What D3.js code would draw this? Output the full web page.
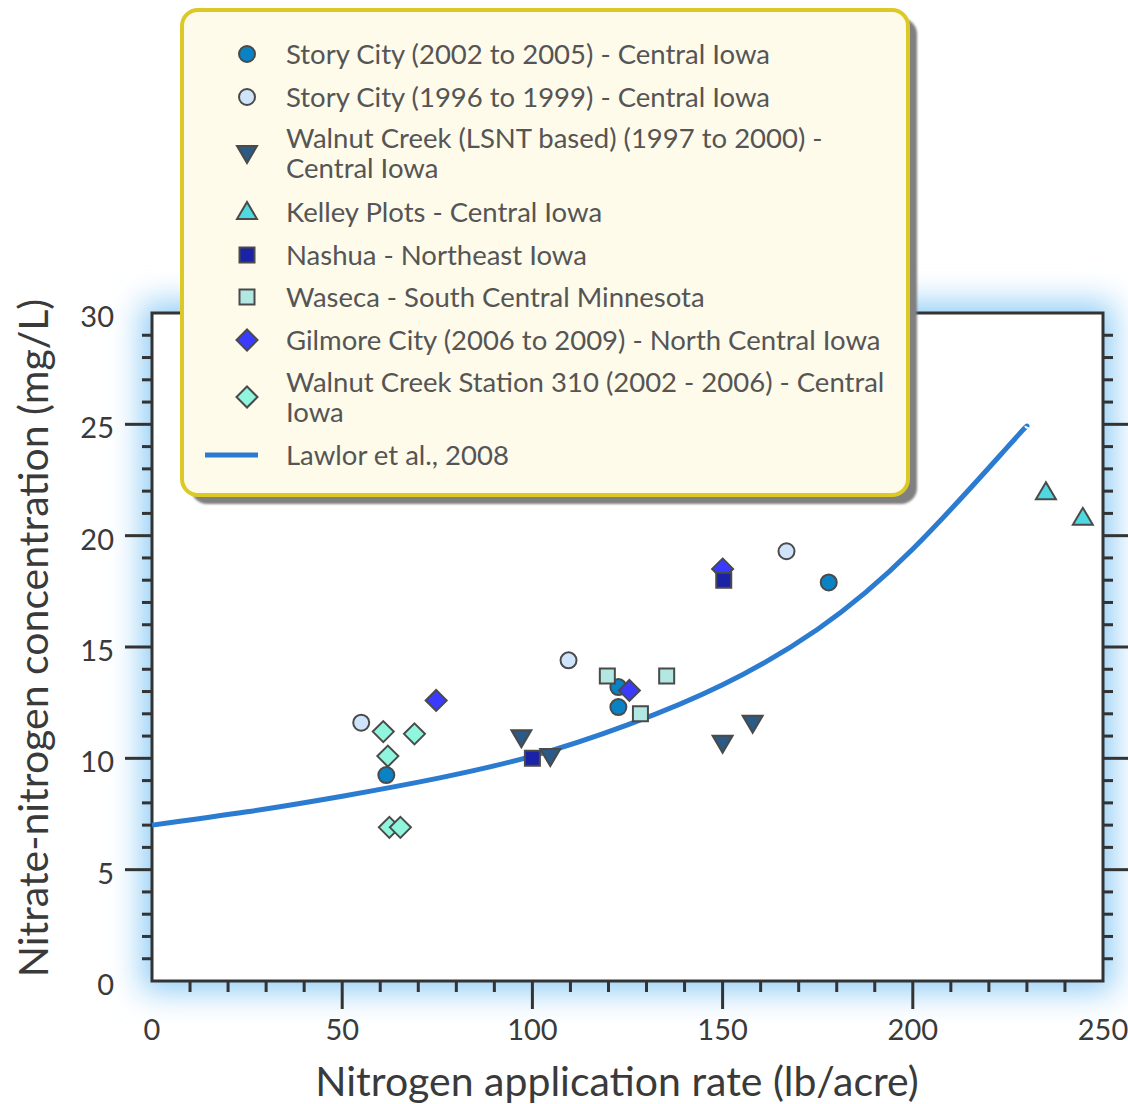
<!DOCTYPE html>
<html><head><meta charset="utf-8">
<script src="https://cdn.jsdelivr.net/npm/d3@7"></script>
<style>body{margin:0;background:#fff}svg{display:block}</style>
</head><body>
<svg id="c" width="1128" height="1104"></svg>
<script>
// ---- data ----
const storyCity2002 = [[61.6, 9.25],[122.6, 13.2],[122.6, 12.3],[177.9, 17.9]];
const storyCity1996 = [[55, 11.6],[109.5, 14.4],[166.8, 19.3]];
const walnutLSNT = [[97.1, 10.95],[104.7, 10.1],[150, 10.7],[157.9, 11.6]];
const kelley = [[235, 21.95],[244.7, 20.8]];
const nashua = [[100, 10.0],[150.3, 18.0]];
const waseca = [[119.7, 13.7],[135.3, 13.7],[128.4, 12.0]];
const gilmore = [[74.7, 12.6],[125.5, 13.05],[150, 18.5]];
const wc310 = [[60.8, 11.2],[69, 11.1],[62, 10.1],[62.4, 6.9],[65.3, 6.9]];
const lawlorX = [0, 25, 50, 75, 100, 125, 150, 175, 200, 225, 230];
const lawlorY = [7.0, 7.6, 8.3, 9.1, 10.1, 11.5, 13.3, 15.8, 19.4, 24.0, 24.9];
const xTicks = [0, 50, 100, 150, 200, 250];
const yTicks = [0, 5, 10, 15, 20, 25, 30];
const legendLabels = [
  ["Story City (2002 to 2005) - Central Iowa"],
  ["Story City (1996 to 1999) - Central Iowa"],
  ["Walnut Creek (LSNT based) (1997 to 2000) -", "Central Iowa"],
  ["Kelley Plots - Central Iowa"],
  ["Nashua - Northeast Iowa"],
  ["Waseca - South Central Minnesota"],
  ["Gilmore City (2006 to 2009) - North Central Iowa"],
  ["Walnut Creek Station 310 (2002 - 2006) - Central", "Iowa"],
  ["Lawlor et al., 2008"]
];
const xTitle = "Nitrogen application rate (lb/acre)";
const yTitle = "Nitrate-nitrogen concentration (mg/L)";

// ---- styles ----
const series = [
  {data: wc310, shape: "diamond", fill: "#8ff5dc", leg: 7},
  {data: storyCity2002, shape: "circle", fill: "#0a82c4", leg: 0},
  {data: storyCity1996, shape: "circle", fill: "#cfe4fb", leg: 1},
  {data: waseca, shape: "square", fill: "#b3e8e2", leg: 5},
  {data: gilmore, shape: "diamond", fill: "#3b3bff", leg: 6},
  {data: nashua, shape: "square", fill: "#1a22a8", leg: 4},
  {data: walnutLSNT, shape: "down", fill: "#2a5a85", leg: 2},
  {data: kelley, shape: "up", fill: "#4ed8e0", leg: 3}
];
const FONT = "Lato, 'Open Sans', sans-serif";
const svg = d3.select("#c");
const L = 152, R = 1103, T = 313, B = 981;
const x = d3.scaleLinear().domain([0, 250]).range([L, R]);
const y = d3.scaleLinear().domain([0, 30]).range([B, T]);

function shapePath(s) {
  switch (s) {
    case "circle": return "M8,0A8,8 0 1,1 -8,0A8,8 0 1,1 8,0Z";
    case "square": return "M-7.5,-7.5H7.5V7.5H-7.5Z";
    case "diamond": return "M0,-10.5L10.5,0L0,10.5L-10.5,0Z";
    case "down": return "M-10,-7L10,-7L0,10Z";
    case "up": return "M-10,7L10,7L0,-10Z";
  }
}

const defs = svg.append("defs");
const f = defs.append("filter").attr("id","glow").attr("x","-20%").attr("y","-20%").attr("width","140%").attr("height","140%");
f.append("feGaussianBlur").attr("stdDeviation", 16);
const sh = defs.append("filter").attr("id","sh").attr("x","-5%").attr("y","-5%").attr("width","110%").attr("height","110%");
sh.append("feGaussianBlur").attr("stdDeviation", 1.2);

// glow
svg.append("rect").attr("x", L-10).attr("y", T-10).attr("width", R-L+20).attr("height", B-T+20)
  .attr("fill", "#8ccbf6").attr("filter", "url(#glow)");
svg.append("rect").attr("x", L).attr("y", T).attr("width", R-L).attr("height", B-T).attr("fill", "#fff");

// ticks
const g = svg.append("g").attr("stroke", "#333").attr("stroke-width", 3).attr("fill", "none");
d3.range(0, 251, 10).forEach(v => {
  const major = v % 50 === 0;
  if (v === 0 || v === 250) return;
  g.append("line").attr("x1", x(v)).attr("x2", x(v)).attr("y1", B).attr("y2", B + (major ? 28 : 11));
});
d3.range(0, 31, 1).forEach(v => {
  const major = v % 5 === 0;
  if (v === 0 || v === 30) return;
  g.append("line").attr("y1", y(v)).attr("y2", y(v)).attr("x1", L).attr("x2", L - (major ? 27 : 10));
  g.append("line").attr("y1", y(v)).attr("y2", y(v)).attr("x1", R).attr("x2", R + (major ? 27 : 10));
});
g.append("rect").attr("x", L).attr("y", T).attr("width", R-L).attr("height", B-T);

// tick labels
svg.append("g").selectAll("text").data(xTicks).join("text")
  .attr("x", d => x(d)).attr("y", 1040).attr("text-anchor", "middle")
  .attr("font-family", FONT).attr("font-size", 29).attr("fill", "#3a3a3a").text(d => d);
svg.append("g").selectAll("text").data(yTicks).join("text")
  .attr("x", 114).attr("y", d => y(d) + 14).attr("text-anchor", "end")
  .attr("font-family", FONT).attr("font-size", 29).attr("fill", "#3a3a3a").text(d => d);

// titles
svg.append("text").attr("x", 617).attr("y", 1096).attr("text-anchor", "middle")
  .attr("font-family", FONT).attr("font-size", 41).attr("fill", "#3a3a3a").text(xTitle);
svg.append("text").attr("transform", "translate(48,638) rotate(-90)").attr("text-anchor", "middle")
  .attr("font-family", FONT).attr("font-size", 41).attr("fill", "#3a3a3a").text(yTitle);

// curve
const line = d3.line().x(d => x(d[0])).y(d => y(d[1])).curve(d3.curveNatural);
svg.append("path").datum(lawlorX.map((v, i) => [v, lawlorY[i]]))
  .attr("d", line).attr("fill", "none").attr("stroke", "#2b7bd0").attr("stroke-width", 5);

// points
series.forEach(s => {
  svg.append("g").selectAll("path").data(s.data).join("path")
    .attr("transform", d => `translate(${x(d[0])},${y(d[1])})`)
    .attr("d", shapePath(s.shape)).attr("fill", s.fill)
    .attr("stroke", "#4a4a4a").attr("stroke-width", 2);
});

// legend
const lg = svg.append("g");
lg.append("rect").attr("x", 191).attr("y", 18).attr("width", 726).attr("height", 486).attr("rx", 16)
  .attr("fill", "#808080").attr("filter", "url(#sh)");
lg.append("rect").attr("x", 182).attr("y", 10).attr("width", 726).attr("height", 485).attr("rx", 16)
  .attr("fill", "#fefbea").attr("stroke", "#dcc925").attr("stroke-width", 4);
const rowY = [54, 97, 153, 212, 255, 297, 340, 397, 455];
const legStyle = {};
series.forEach(s => legStyle[s.leg] = s);
legendLabels.forEach((lines, i) => {
  const cy = rowY[i];
  if (i === 8) {
    lg.append("line").attr("x1", 205).attr("x2", 258).attr("y1", cy).attr("y2", cy)
      .attr("stroke", "#2b7bd0").attr("stroke-width", 5);
  } else {
    const s = legStyle[i];
    lg.append("path").attr("transform", `translate(247,${cy})`).attr("d", shapePath(s.shape))
      .attr("fill", s.fill).attr("stroke", "#4a4a4a").attr("stroke-width", 2);
  }
  const top = lines.length === 2 ? cy - 15 : cy;
  lines.forEach((t, j) => {
    lg.append("text").attr("x", 286).attr("y", top + j * 30 + 10)
      .attr("font-family", FONT).attr("font-size", 27.5).attr("fill", "#555").text(t);
  });
});
</script>
</body></html>
